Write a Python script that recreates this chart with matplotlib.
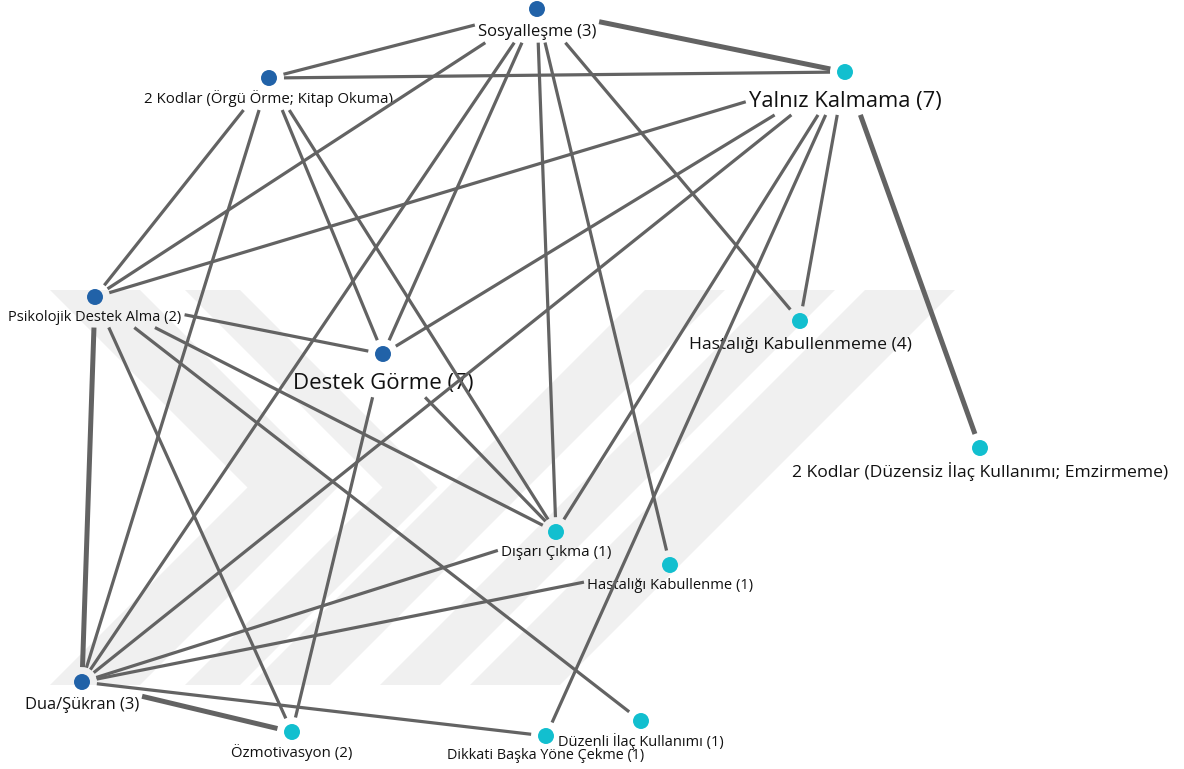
import numpy as np
import matplotlib
matplotlib.use('Agg')
import matplotlib.pyplot as plt
from matplotlib.patches import Polygon

W, H = 1184, 769

# nodes (layout in pixel space of the original map)
node_labels = ["Sosyalleşme (3)", "2 Kodlar (Örgü Örme; Kitap Okuma)", "Yalnız Kalmama (7)",
               "Psikolojik Destek Alma (2)", "Destek Görme (7)", "Hastalığı Kabullenmeme (4)",
               "2 Kodlar (Düzensiz İlaç Kullanımı; Emzirmeme)", "Dışarı Çıkma (1)",
               "Hastalığı Kabullenme (1)", "Dua/Şükran (3)", "Özmotivasyon (2)",
               "Dikkati Başka Yöne Çekme (1)", "Düzenli İlaç Kullanımı (1)"]
node_keys = ["S", "K1", "Y", "P", "D", "HK4", "K2", "DC", "HK1", "DS", "O", "DB", "DI"]
node_x = [537, 269, 845, 95, 383, 800, 980, 556, 670, 82, 292, 546, 641]
node_y = [9, 78, 72, 297, 354, 321, 448, 532, 565, 682, 732, 736, 721]
node_group = [0, 0, 1, 0, 0, 1, 1, 1, 1, 0, 1, 1, 1]

# co-occurrence links
edge_src = ["S", "S", "S", "S", "S", "S", "S", "S",
            "K1", "K1", "K1", "K1", "K1",
            "Y", "Y", "Y", "Y", "Y", "Y", "Y",
            "P", "P", "P", "P", "P",
            "D", "D",
            "DS", "DS", "DS", "DS"]
edge_dst = ["K1", "Y", "P", "DS", "D", "DC", "HK1", "HK4",
            "Y", "P", "DS", "D", "DC",
            "P", "D", "DS", "DC", "DB", "HK4", "K2",
            "D", "DS", "O", "DC", "DI",
            "O", "DC",
            "DC", "HK1", "O", "DB"]
edge_weight = [1, 2, 1, 1, 1, 1, 1, 1,
               1, 1, 1, 1, 1,
               1, 1, 1, 1, 1, 1, 2,
               1, 2, 1, 1, 1,
               1, 1,
               1, 1, 2, 1]

# styling
group_colors = ["#2162a8", "#12bfcf"]
label_size = {"S": 12, "K1": 10.8, "Y": 15.8, "P": 10.5, "D": 16, "HK4": 12.6,
              "K2": 12.6, "DC": 11, "HK1": 10.6, "DS": 11.9, "O": 10.8, "DB": 10.4, "DI": 10.5}
EDGE_COLOR = "#636363"
R_CLIP = 15
PAD = 3

# faint background watermark (chevron + slanted strips)
WM_TOP, WM_BOT = 290, 685
wm_chevrons = [(50, 140), (185, 240)]      # left/right edge of each ">" arm at the top
wm_strips = [(250, 330), (380, 440), (470, 560)]  # "/" strips, x range at the bottom

plt.rcParams['font.family'] = ['Open Sans', 'DejaVu Sans']

fig = plt.figure(figsize=(W / 100, H / 100), dpi=100)
ax = fig.add_axes([0, 0, 1, 1])
ax.set_xlim(0, W)
ax.set_ylim(H, 0)
ax.axis('off')

half = (WM_BOT - WM_TOP) / 2
for xl, xr in wm_chevrons:
    pts = [(xl, WM_TOP), (xr, WM_TOP), (xr + half, WM_TOP + half), (xr, WM_BOT),
           (xl, WM_BOT), (xl + half, WM_TOP + half)]
    ax.add_patch(Polygon(pts, closed=True, fc="#f0f0f0", ec="none", zorder=0))
rise = WM_BOT - WM_TOP
for xl, xr in wm_strips:
    pts = [(xl, WM_BOT), (xr, WM_BOT), (xr + rise, WM_TOP), (xl + rise, WM_TOP)]
    ax.add_patch(Polygon(pts, closed=True, fc="#f0f0f0", ec="none", zorder=0))

idx = {k: i for i, k in enumerate(node_keys)}

texts = []
for i, k in enumerate(node_keys):
    fs = label_size[k]
    t = ax.annotate(node_labels[i], (node_x[i], node_y[i]),
                    xytext=(0, -(1.28 * fs + 1)), textcoords='offset points',
                    ha='center', va='center', fontsize=fs, color='#111111', zorder=2)
    texts.append(t)

fig.canvas.draw()
renderer = fig.canvas.get_renderer()
inv = ax.transData.inverted()
boxes = []
for t in texts:
    bb = t.get_window_extent(renderer).transformed(inv)
    boxes.append((min(bb.x0, bb.x1) - PAD, max(bb.x0, bb.x1) + PAD,
                  min(bb.y0, bb.y1) - PAD, max(bb.y0, bb.y1) + PAD))


def inside(i, px, py):
    x0, x1, y0, y1 = boxes[i]
    in_box = (px >= x0) & (px <= x1) & (py >= y0) & (py <= y1)
    in_circ = np.hypot(px - node_x[i], py - node_y[i]) <= R_CLIP
    return in_box | in_circ


tt = np.linspace(0, 1, 3001)
for s, d, w in zip(edge_src, edge_dst, edge_weight):
    a, b = idx[s], idx[d]
    px = node_x[a] + tt * (node_x[b] - node_x[a])
    py = node_y[a] + tt * (node_y[b] - node_y[a])
    t0 = tt[inside(a, px, py)].max()
    t1 = tt[inside(b, px, py)].min()
    if t1 <= t0:
        continue
    xs = [node_x[a] + t0 * (node_x[b] - node_x[a]), node_x[a] + t1 * (node_x[b] - node_x[a])]
    ys = [node_y[a] + t0 * (node_y[b] - node_y[a]), node_y[a] + t1 * (node_y[b] - node_y[a])]
    ax.plot(xs, ys, color=EDGE_COLOR, lw=2.3 if w == 1 else 3.6,
            solid_capstyle='butt', zorder=3)

ax.scatter(node_x, node_y, s=11.5 ** 2, c=[group_colors[g] for g in node_group],
           linewidths=0, zorder=4)

fig.savefig("out.png", dpi=100)
